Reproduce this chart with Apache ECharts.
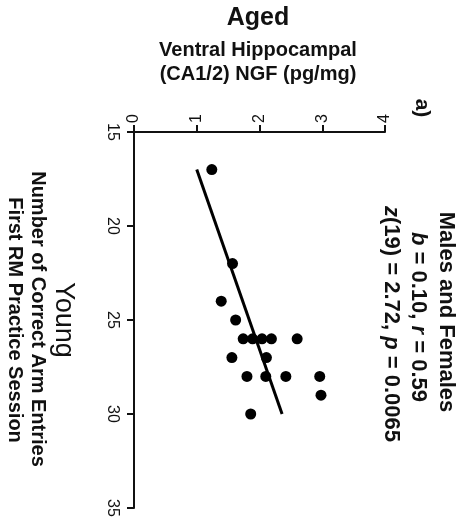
<!DOCTYPE html>
<html>
<head>
<meta charset="utf-8">
<script src="https://cdn.jsdelivr.net/npm/echarts@6/dist/echarts.min.js"></script>
<style>
  html, body { margin: 0; padding: 0; background: #fff; }
  #chart { width: 466px; height: 523px; }
</style>
</head>
<body>
<div id="chart"></div>
<script>
// Aged ventral hippocampal NGF vs. young correct arm entries (one point per animal)
const ngfValues = [1.24, 1.57, 1.39, 1.62, 1.74, 1.89, 2.04, 2.19, 2.60, 1.56, 2.11, 1.80, 2.10, 2.42, 2.96, 2.98, 1.86];
const armEntries = [17, 22, 24, 25, 26, 26, 26, 26, 26, 27, 27, 28, 28, 28, 28, 29, 30];

// Least-squares fit endpoints (NGF, arm entries)
const fitNgf = [1.0, 2.36];
const fitEntries = [17, 30];

// Axis ranges and ticks
const ngfTicks = [0, 1, 2, 3, 4];
const entryTicks = [15, 20, 25, 30, 35];

const FONT = '"Liberation Sans", Arial, sans-serif';
const INK = '#111';

const points = ngfValues.map((v, i) => [v, armEntries[i]]);
const fitLine = fitNgf.map((v, i) => [v, fitEntries[i]]);

const CW = -Math.PI / 2; // text turned a quarter turn clockwise

function label(x, y, text, size, weight, rotation, rich) {
  return {
    type: 'text',
    x: x, y: y,
    rotation: rotation || 0,
    style: {
      text: text,
      fontFamily: FONT,
      fontSize: size,
      fontWeight: weight,
      fill: INK,
      align: 'center',
      verticalAlign: 'middle',
      rich: rich
    }
  };
}

const italicRich = {
  i: { fontFamily: FONT, fontSize: 22, fontWeight: 'bold', fontStyle: 'italic', fill: INK }
};

const chart = echarts.init(document.getElementById('chart'), null, { renderer: 'canvas' });
chart.setOption({
  animation: false,
  backgroundColor: '#fff',
  grid: { left: 134, top: 132, right: 81, bottom: 15, outerBoundsMode: 'none' },
  xAxis: {
    type: 'value',
    position: 'top',
    min: ngfTicks[0],
    max: ngfTicks[ngfTicks.length - 1],
    interval: 1,
    splitLine: { show: false },
    axisLine: { show: true, lineStyle: { color: INK, width: 2 } },
    axisTick: { show: true, length: 7, lineStyle: { color: INK, width: 2 } },
    axisLabel: { rotate: -90, margin: 9, fontFamily: FONT, fontSize: 16, color: INK }
  },
  yAxis: {
    type: 'value',
    inverse: true,
    min: entryTicks[0],
    max: entryTicks[entryTicks.length - 1],
    interval: 5,
    splitLine: { show: false },
    axisLine: { show: true, lineStyle: { color: INK, width: 2 } },
    axisTick: { show: true, length: 7, lineStyle: { color: INK, width: 2 } },
    axisLabel: { rotate: -90, margin: 14, fontFamily: FONT, fontSize: 16, color: INK }
  },
  series: [
    {
      type: 'scatter',
      data: points,
      symbol: 'circle',
      symbolSize: 11,
      itemStyle: { color: '#000', opacity: 1 }
    },
    {
      type: 'line',
      data: fitLine,
      showSymbol: false,
      symbol: 'none',
      lineStyle: { color: '#000', width: 3 }
    }
  ],
  graphic: [
    label(258, 18, 'Aged', 25, 'bold'),
    label(258, 50, 'Ventral Hippocampal', 20, 'bold'),
    label(258, 74, '(CA1/2) NGF (pg/mg)', 20, 'bold'),
    label(63, 320, 'Young', 27, 'normal', CW),
    label(38, 319, 'Number of Correct Arm Entries', 20, 'bold', CW),
    label(15, 320, 'First RM Practice Session', 20, 'bold', CW),
    label(422, 108, 'a)', 21, 'bold', CW),
    label(446, 312, 'Males and Females', 22, 'bold', CW),
    label(418, 317, '{i|b} = 0.10, {i|r} = 0.59', 22, 'bold', CW, italicRich),
    label(391, 324, '{i|z}(19) = 2.72, {i|p} = 0.0065', 22, 'bold', CW, italicRich)
  ]
});
</script>
</body>
</html>
